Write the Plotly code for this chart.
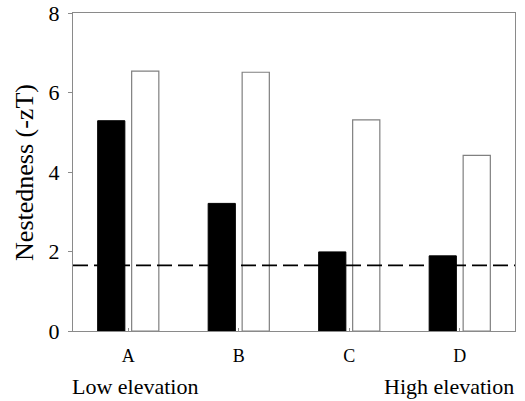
import plotly.graph_objects as go

categories = ["A", "B", "C", "D"]
observed = [5.29, 3.21, 1.99, 1.89]
other = [6.54, 6.51, 5.31, 4.42]
threshold = 1.65
y_ticks = [0, 2, 4, 6, 8]

font_family = "Liberation Serif, Times New Roman, serif"
axis_col = "#8a8a8a"

fig = go.Figure()
fig.add_trace(go.Bar(x=categories, y=observed, marker=dict(color="black", line=dict(color="black", width=1)), showlegend=False))
fig.add_trace(go.Bar(x=categories, y=other, marker=dict(color="white", line=dict(color="#808080", width=1.2)), showlegend=False))

fig.add_shape(type="line", xref="paper", yref="y", x0=0, x1=1, y0=threshold, y1=threshold,
              line=dict(color="black", width=1.8, dash="15px,6px"), layer="above")

fig.update_layout(
    width=525, height=401,
    margin=dict(l=73, r=10, t=13, b=70),
    paper_bgcolor="white", plot_bgcolor="white",
    barmode="group", bargap=0.385, bargroupgap=0.2,
    font=dict(family=font_family, size=18, color="black"),
    xaxis=dict(showline=True, linecolor=axis_col, linewidth=1.2, mirror=True, automargin=False,
               ticks="inside", ticklen=3, tickcolor=axis_col, showgrid=False,
               ticklabelstandoff=8,
               tickfont=dict(size=18, family=font_family)),
    yaxis=dict(range=[0, 8], tickvals=y_ticks, showline=True, linecolor=axis_col, linewidth=1.2,
               mirror=True, ticks="outside", ticklen=4, tickcolor=axis_col, showgrid=False,
               zeroline=False, automargin=False, ticklabelstandoff=4,
               tickfont=dict(size=22, family=font_family)),
    annotations=[
        dict(text="Nestedness (-zT)", xref="paper", yref="paper", x=-0.111, y=0.5, textangle=-90,
             xanchor="center", yanchor="middle", showarrow=False, font=dict(size=26, family=font_family)),
        dict(text="Low elevation", xref="paper", yref="paper", x=-0.007, y=-0.176, xanchor="left", yanchor="middle",
             showarrow=False, font=dict(size=22, family=font_family)),
        dict(text="High elevation", xref="paper", yref="paper", x=1.002, y=-0.176, xanchor="right", yanchor="middle",
             showarrow=False, font=dict(size=22, family=font_family)),
    ],
)

fig.write_html("out.html", config={"displayModeBar": False},
               post_script="document.body.style.margin='0';")
